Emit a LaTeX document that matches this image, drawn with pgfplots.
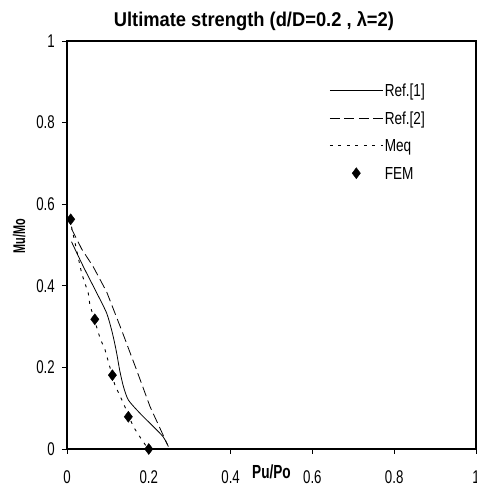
\documentclass[border=0pt]{standalone}
\usepackage{fontspec}
\setmainfont[FakeStretch=0.78]{Liberation Sans}
\newfontfamily\narrowfont[FakeStretch=0.72]{Liberation Sans}
\newfontfamily\ylabfont[FakeStretch=0.64]{Liberation Sans}
\newfontfamily\titlefont[FakeStretch=0.92]{Liberation Sans}
\usepackage{pgfplots}
\pgfplotsset{compat=1.18}

\begin{document}
\begin{tikzpicture}
\path[use as bounding box] (-67bp,-37bp) rectangle (410bp,449bp);
\begin{axis}[
    scale only axis,
    width=409bp, height=408bp,
    xmin=0, xmax=1, ymin=0, ymax=1,
    xtick={0,0.2,...,1}, ytick={0,0.2,...,1},
    xtick pos=bottom, ytick pos=left,
    tick align=outside,
    major tick length=5bp,
    axis line style={line width=1.2pt},
    tick style={line width=0.8pt, black},
    clip=false,
    /pgf/number format/assume math mode=true,
    /pgf/number format/fixed,
    ticklabel style={font=\narrowfont\fontsize{18.5}{20}\selectfont},
    xticklabel style={anchor=base, yshift=-29bp},
    yticklabel style={anchor=east, inner sep=0pt, xshift=-7bp},
    title={\titlefont\bfseries\fontsize{20}{22}\selectfont Ultimate strength (d/D=0.2 , λ=2)},
    title style={at={(axis description cs:0.457,1)}, anchor=base, yshift=9bp},
    xlabel={\narrowfont\bfseries\fontsize{19}{22}\selectfont Pu/Po},
    xlabel style={at={(axis description cs:0.5,0)}, anchor=base, yshift=-29bp},
    ylabel={\ylabfont\bfseries\fontsize{17}{18}\selectfont Mu/Mo},
    every axis y label/.style={at={(axis description cs:-0.117,0.522)}, rotate=90, anchor=center},
    legend style={at={(axis description cs:0.641,0.897)}, anchor=north west,
        draw=none, fill=none, inner sep=0pt, row sep=12.5bp,
        font=\fontsize{17.5}{20}\selectfont,
        nodes={inner sep=1.5bp, text height=12bp, text depth=0pt}},
    legend cell align=left,
    legend image code/.code={\draw[mark repeat=2,mark phase=2,#1] plot coordinates {(0bp,0bp) (26.5bp,0bp) (53bp,0bp)};},
]
\addplot[black, line width=0.8pt, smooth, tension=0.4] coordinates {
(0.011,0.508)(0.040,0.447)(0.073,0.382)(0.097,0.333)(0.109,0.292)(0.116,0.262)(0.122,0.232)(0.129,0.192)(0.138,0.153)(0.150,0.120)(0.178,0.088)(0.211,0.055)(0.235,0.030)(0.248,0.006)};
\addlegendentry{Ref.[1]}
\addplot[black, line width=0.8pt, dash pattern=on 10bp off 4.5bp] coordinates {
(0.011,0.540)(0.036,0.490)(0.064,0.447)(0.097,0.385)(0.134,0.290)(0.170,0.194)(0.203,0.104)(0.246,0.010)};
\addlegendentry{Ref.[2]}
\addplot[black, line width=0.9pt, dash pattern=on 3bp off 5.5bp] coordinates {
(0.011,0.545)(0.036,0.430)(0.052,0.382)(0.056,0.353)(0.081,0.271)(0.093,0.243)(0.117,0.157)(0.138,0.112)(0.162,0.055)(0.178,0.030)(0.195,0.005)};
\addlegendentry{Meq}
\addplot[only marks, mark=diamond*, mark size=5.5bp, black] coordinates {
(0.009,0.563)(0.068,0.318)(0.111,0.181)(0.150,0.079)(0.200,0.000)};
\addlegendentry{FEM}
\end{axis}
\end{tikzpicture}
\end{document}
